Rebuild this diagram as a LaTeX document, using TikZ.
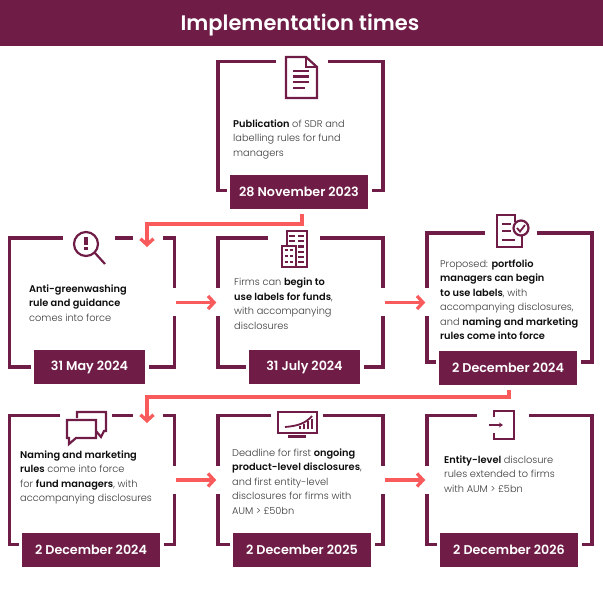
\documentclass[tikz,border=0pt]{standalone}
\usepackage{fontspec}
\setmainfont{Poppins Light}[BoldFont={Poppins SemiBold}]
\usepackage{xcolor}
\usetikzlibrary{arrows.meta}
\definecolor{plum}{HTML}{6F1D46}
\definecolor{coral}{HTML}{F95A5C}
\definecolor{bodygrey}{HTML}{3A3A3A}
\newcommand{\hl}[1]{{\bfseries\color{black!95}#1}}

\begin{document}
\begin{tikzpicture}[x=1pt,y=-1pt,>={Straight Barb[length=6pt,width=13pt]},
	frame/.style={draw=plum,line width=3.5pt,minimum width=165pt,minimum height=129pt,inner sep=0pt},
	gap/.style={fill=white,inner sep=0pt,minimum width=#1,minimum height=8pt},
	sidegap/.style={fill=white,inner sep=0pt,minimum width=8pt,minimum height=28pt},
	date/.style={fill=plum,preaction={draw=white,line width=7pt},text=white,font=\fontsize{12.7}{14}\selectfont\bfseries,minimum width=#1,minimum height=34pt,inner sep=0pt},
	body/.style={anchor=north west,align=left,inner sep=0pt,text=bodygrey,font=\fontsize{9.8}{14.5}\selectfont},
	flow/.style={draw=coral,line width=3.3pt},
	icon/.style={draw=plum,line width=2.2pt}]
	\useasboundingbox (0,0) rectangle (603,595);

	% Title band
	\node [fill=plum,minimum width=603pt,minimum height=46pt,inner sep=0pt] at (301.5,23) (title) {};
	\node [text=white,inner sep=0pt,font=\fontsize{21}{24}\selectfont\bfseries] at (300,25) (titletext) {Implementation times};

	% The frames
	\node [frame] at (300.5,125.75) (box1) {};
	\node [frame] at (92,302.5) (box2) {};
	\node [frame] at (300.5,302.5) (box3) {};
	\node [frame] at (509.5,297.5) (box4) {};
	\node [frame] at (92,480) (box5) {};
	\node [frame] at (300.5,480) (box6) {};
	\node [frame] at (509.5,480) (box7) {};

	% Openings in the frames
	\node [gap=52pt] at (302,61.5) (gap1) {};
	\node [gap=52pt] at (89,238) (gap2) {};
	\node [gap=30pt] at (148,238) (gap2b) {};
	\node [gap=52pt] at (294,238) (gap3) {};
	\node [gap=52pt] at (511,233) (gap4) {};
	\node [gap=52pt] at (86,415.5) (gap5) {};
	\node [gap=30pt] at (148,415.5) (gap5b) {};
	\node [gap=52pt] at (297,415.5) (gap6) {};
	\node [gap=52pt] at (503,415.5) (gap7) {};
	\node [sidegap] at (175,302) (side2) {};
	\node [sidegap] at (218,302) (side3a) {};
	\node [sidegap] at (383,302) (side3b) {};
	\node [sidegap] at (427,302) (side4) {};
	\node [sidegap] at (175,480) (side5) {};
	\node [sidegap] at (218,480) (side6a) {};
	\node [sidegap] at (383,480) (side6b) {};
	\node [sidegap] at (427,480) (side7) {};

	% Dates
	\node [date=138pt] at (299,192) (date1) {28 November 2023};
	\node [date=111pt] at (89.5,367) (date2) {31 May 2024};
	\node [date=111pt] at (304.5,367) (date3) {31 July 2024};
	\node [date=138pt] at (508,368) (date4) {2 December 2024};
	\node [date=138pt] at (91,550) (date5) {2 December 2024};
	\node [date=138pt] at (302,550) (date6) {2 December 2025};
	\node [date=138pt] at (509,550) (date7) {2 December 2026};

	% Texts
	\node [body] at (233,119.5) (text1) {\hl{Publication} of SDR and\\labelling rules for fund\\managers};
	\node [body] at (29,284.5) (text2) {\hl{Anti-greenwashing}\\\hl{rule and guidance}\\comes into force};
	\node [body] at (234,278) (text3) {Firms can \hl{begin to}\\\hl{use labels for funds},\\with accompanying\\disclosures};
	\node [body] at (440,259.5) (text4) {Proposed: \hl{portfolio}\\\hl{managers can begin}\\\hl{to use labels}, with\\accompanying disclosures,\\and \hl{naming and marketing}\\\hl{rules come into force}};
	\node [body] at (20,450.5) (text5) {\hl{Naming and marketing}\\\hl{rules} come into force\\for \hl{fund managers}, with\\accompanying disclosures};
	\node [body] at (232,448.5) (text6) {Deadline for first \hl{ongoing}\\\hl{product-level disclosures},\\and first entity-level\\disclosures for firms with\\AUM > £50bn};
	\node [body] at (444,455.5) (text7) {\hl{Entity-level} disclosure\\rules extended to firms\\with AUM > £5bn};

	% Arrow ends
	\coordinate (out1) at (302,214);
	\coordinate (turn1) at (147,224);
	\coordinate (in1) at (147,247);
	\coordinate (out4) at (509,390);
	\coordinate (turn4) at (147,397);
	\coordinate (in5) at (147,423);

	% Arrows
	\draw[flow,->] (out1) |- (turn1) -- (in1);
	\draw[flow,->] (out4) |- (turn4) -- (in5);
	\draw[flow,->] (box2.east) -- (box3.west);
	\draw[flow,->] (box3.east) -- (box3.east -| box4.west);
	\draw[flow,->] (box5.east) -- (box6.west);
	\draw[flow,->] (box6.east) -- (box7.west);

	% Icons
	% document
	\draw[icon] (306,57) -- (286,57) -- (286,98) -- (317,98) -- (317,67) -- cycle;
	\draw[icon,line width=1.5pt] (306,57) -- (306,67) -- (317,67);
	\draw[icon] (293,71) -- (309,71) (293,76.5) -- (309,76.5) (293,82) -- (309,82) (293,88) -- (305,88);
	% magnifier
	\draw[icon] (86,244) circle (12);
	\draw[icon] (95,253) -- (105,264);
	\draw[icon,line width=3.5pt] (86,237) -- (86,245) (86,247) -- (86,250);
	% buildings
	\draw[icon] (287,245) -- (287,231) -- (307,231) -- (307,267) -- (282,267) -- (282,246) -- (296,246) -- (296,267);
	\draw[plum,line width=2.6pt] (284.5,250) -- (287.5,250) (289.5,250) -- (292.5,250) (284.5,256) -- (287.5,256) (289.5,256) -- (292.5,256) (284.5,262) -- (287.5,262) (289.5,262) -- (292.5,262);
	\draw[plum,line width=2.2pt] (289,236) -- (295,236) (289,241) -- (295,241);
	\draw[plum,line width=2.2pt] (298,236) -- (304,236) (298,241) -- (304,241) (298,246.5) -- (304,246.5) (298,252) -- (304,252) (298,257) -- (304,257) (298,262) -- (304,262);
	% checked document
	\draw[icon] (515,222) -- (515,215) -- (497,215) -- (497,247) -- (522,247) -- (522,236);
	\draw[icon] (502,224) -- (511,224) (502,231) -- (511,231) (502,240) -- (515,240);
	\draw[icon] (521,228) circle (7.5);
	\draw[plum,line width=1.8pt] (517,228) -- (520,231.5) -- (525,225);
	% speech bubbles
	\draw[icon] (77,418) -- (77,412) -- (106,412) -- (106,431) -- (104,431) -- (101,437) -- (96,431);
	\draw[icon] (67,420) -- (96,420) -- (96,438) -- (76,438) -- (69,444) -- (69,438) -- (67,438) -- cycle;
	% monitor
	\draw[icon] (278,412) rectangle (317,433);
	\draw[icon] (288,436.5) -- (306,436.5);
	\draw[plum,line width=1.8pt] (285,427) .. controls (298,426) and (306,423) .. (312,416);
	\draw[plum,line width=2pt] (300,429) -- (300,426) (304,429) -- (304,423.5) (308,429) -- (308,421) (312,429) -- (312,419);
	% door
	\draw[icon] (494,417) -- (494,411) -- (514,411) -- (514,439) -- (494,439) -- (494,433);
	\draw[plum,line width=1.8pt,-{Stealth[length=4pt,width=5pt]}] (489,425) -- (503,425);

\end{tikzpicture}
\end{document}
